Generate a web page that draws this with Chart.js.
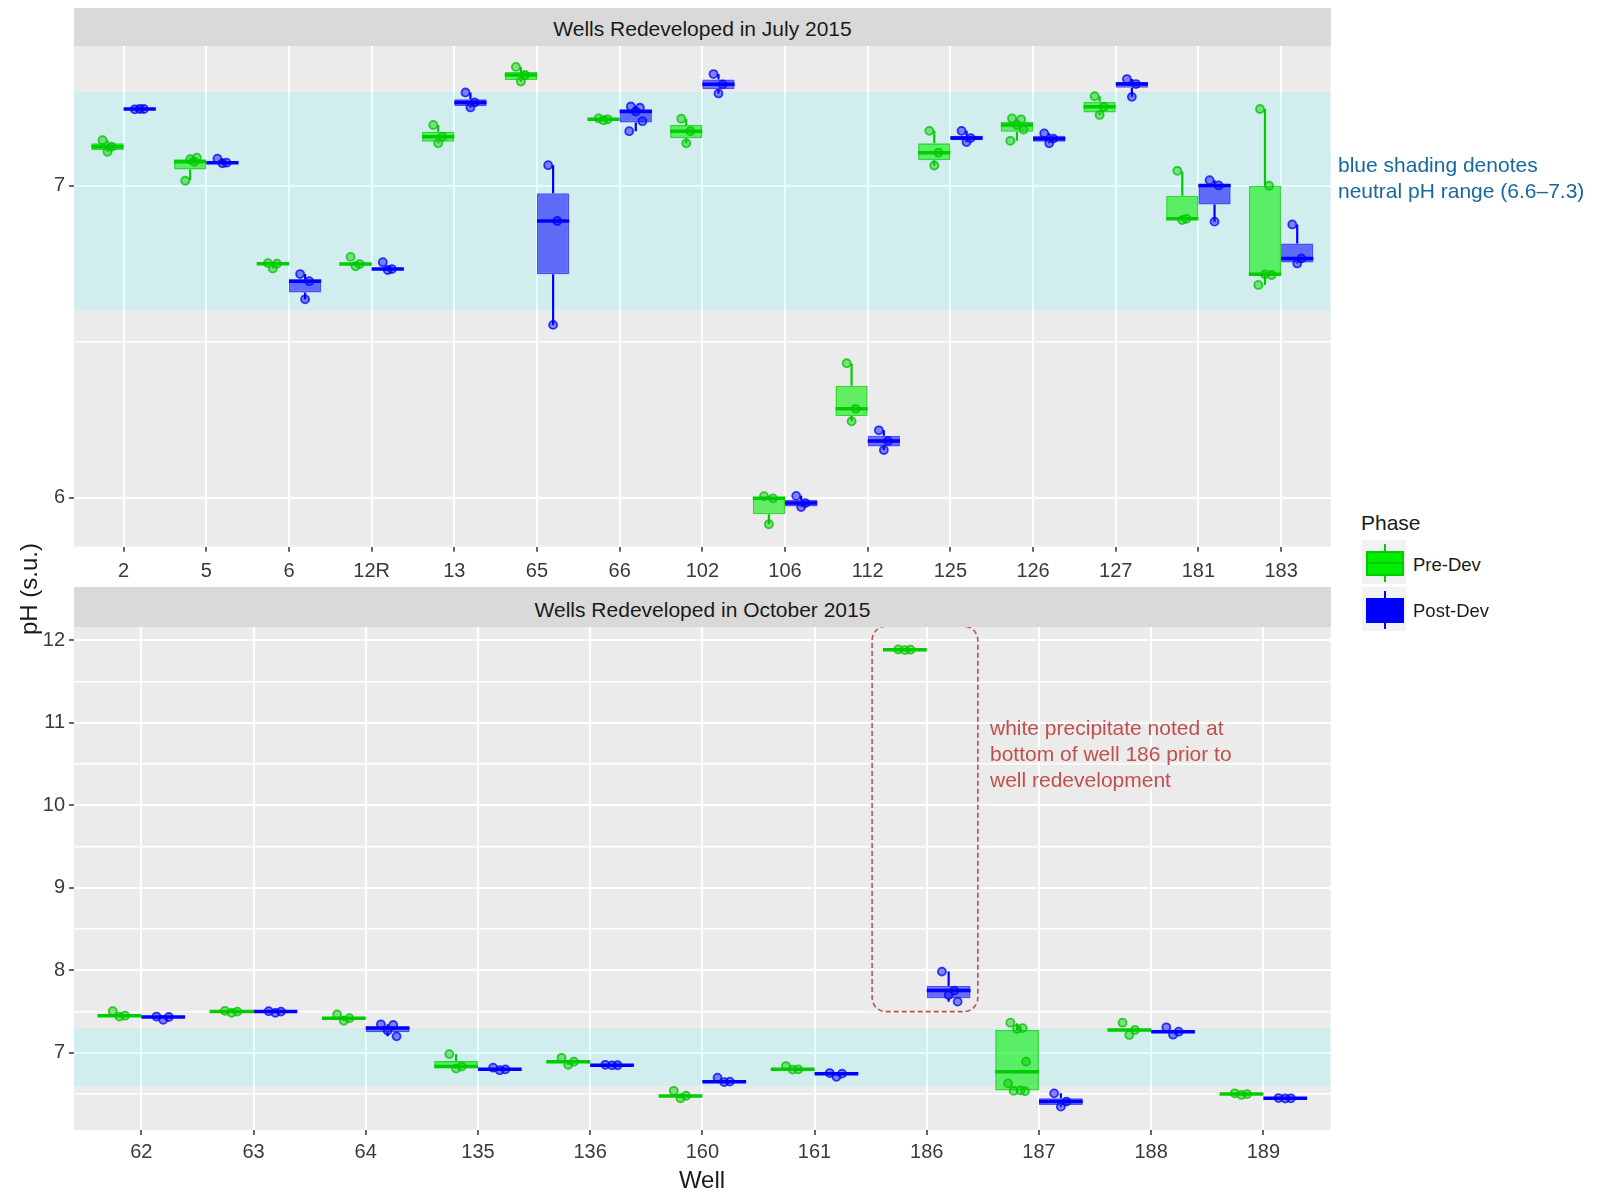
<!DOCTYPE html>
<html>
<head>
<meta charset="utf-8">
<script src="https://cdn.jsdelivr.net/npm/chart.js@4.4.1/dist/chart.umd.min.js"></script>
<style>
  body { margin: 0; background: #fff; font-family: "Liberation Sans", Arial, sans-serif; }
  #wrap { position: relative; width: 1606px; height: 1194px; overflow: hidden; }
  canvas { position: absolute; left: 0; }
  .strip { position: absolute; left: 74px; width: 1257px; background: #d9d9d9; color: #1a1a1a;
           font-size: 21px; text-align: center; }
  .note { position: absolute; font-size: 21px; line-height: 26px; white-space: nowrap; }
  .key { position: absolute; left: 1362px; width: 44px; height: 44px; background: #f2f2f2; }
  .key .wh { position: absolute; left: 22px; top: 4px; width: 2px; height: 38px; }
  .key .bx { position: absolute; left: 4px; top: 11px; width: 34px; height: 21px; border: 2px solid; }
  .key .md { position: absolute; left: 4px; top: 22px; width: 38px; height: 2px; }
  .lab { position: absolute; left: 1413px; font-size: 18.5px; color: #1a1a1a; line-height: 22px; }
</style>
</head>
<body>
<div id="wrap">
  <canvas id="julyChart" width="1340" height="587" style="top:0"></canvas>
  <canvas id="octChart" width="1340" height="607" style="top:587px"></canvas>

  <div class="strip" style="top:8px;height:38px;line-height:42px">Wells Redeveloped in July 2015</div>
  <div class="strip" style="top:587px;height:40px;line-height:46px">Wells Redeveloped in October 2015</div>

  <div class="note" style="left:-27px;top:576px;width:112px;text-align:center;font-size:24px;color:#1a1a1a;transform:rotate(-90deg)">pH (s.u.)</div>
  <div class="note" style="left:652px;top:1167px;width:100px;text-align:center;font-size:24px;color:#1a1a1a">Well</div>

  <div class="note" style="left:1338px;top:152px;color:#17699b">blue shading denotes<br>neutral pH range (6.6–7.3)</div>
  <div class="note" style="left:990px;top:715px;line-height:25.8px;color:#c0504d">white precipitate noted at<br>bottom of well 186 prior to<br>well redevelopment</div>

  <div class="note" style="left:1361px;top:510px;color:#1a1a1a">Phase</div>
  <div class="key" style="top:540px">
    <div class="wh" style="background:#00cd00"></div>
    <div class="bx" style="background:#00ee00;border-color:#00cd00"></div>
    <div class="md" style="background:#00cd00"></div>
  </div>
  <div class="lab" style="top:554px">Pre-Dev</div>
  <div class="key" style="top:587px">
    <div class="wh" style="background:#0000ff"></div>
    <div class="bx" style="background:#0000ff;border-color:#0000ff"></div>
    <div class="md" style="background:#0000ff"></div>
  </div>
  <div class="lab" style="top:600px">Post-Dev</div>
</div>

<script>
// 7月再開発の井戸
const julyWells = ['2', '5', '6', '12R', '13', '65', '66', '102', '106', '112', '125', '126', '127', '181', '183'];
// 箱ひげ: [min, q1, median, q3, max]
const julyPreBox = [
    [7.109, 7.115, 7.125, 7.136, 7.146],
    [7.018, 7.052, 7.077, 7.085, 7.090],
    [6.735, 6.748, 6.750, 6.752, 6.752],
    [6.745, 6.746, 6.749, 6.752, 6.752],
    [7.136, 7.141, 7.157, 7.173, 7.195],
    [7.334, 7.339, 7.355, 7.365, 7.381],
    [7.210, 7.211, 7.213, 7.215, 7.216],
    [7.136, 7.152, 7.175, 7.195, 7.214],
    [5.915, 5.947, 5.998, 6.002, 6.006],
    [6.245, 6.262, 6.285, 6.359, 6.430],
    [7.065, 7.082, 7.106, 7.136, 7.176],
    [7.144, 7.173, 7.195, 7.205, 7.215],
    [7.227, 7.235, 7.253, 7.269, 7.287],
    [6.890, 6.892, 6.894, 6.968, 7.046],
    [6.682, 6.714, 6.716, 7.000, 7.246]
];
const julyPostBox = [
    [7.244, 7.245, 7.246, 7.247, 7.248],
    [7.072, 7.073, 7.074, 7.076, 7.087],
    [6.636, 6.658, 6.694, 6.700, 6.717],
    [6.731, 6.732, 6.733, 6.735, 6.735],
    [7.251, 7.256, 7.267, 7.277, 7.299],
    [6.554, 6.716, 6.887, 6.976, 7.066],
    [7.175, 7.203, 7.238, 7.245, 7.254],
    [7.296, 7.309, 7.325, 7.341, 7.358],
    [5.970, 5.972, 5.983, 5.993, 6.006],
    [6.153, 6.164, 6.182, 6.199, 6.216],
    [7.140, 7.146, 7.153, 7.160, 7.176],
    [7.136, 7.141, 7.151, 7.160, 7.168],
    [7.285, 7.314, 7.326, 7.333, 7.342],
    [6.885, 6.940, 7.001, 7.005, 7.018],
    [6.751, 6.754, 6.767, 6.815, 6.876]
];
// 測定値
const julyPrePoints = [
    [7.146, 7.125, 7.109], [7.016, 7.077, 7.085, 7.090], [6.752, 6.750, 6.735],
    [6.772, 6.749, 6.742], [7.195, 7.157, 7.136], [7.381, 7.355, 7.334],
    [7.216, 7.213, 7.210], [7.215, 7.175, 7.136], [6.005, 5.998, 5.915],
    [6.431, 6.285, 6.245], [7.176, 7.106, 7.065], [7.216, 7.213, 7.195, 7.180, 7.144],
    [7.287, 7.253, 7.227], [7.048, 6.894, 6.890], [7.246, 7.000, 6.716, 6.714, 6.682]
];
const julyPostPoints = [
    [7.245, 7.246, 7.246], [7.087, 7.074, 7.072], [6.717, 6.694, 6.636],
    [6.755, 6.733, 6.730], [7.299, 7.267, 7.251], [7.066, 6.887, 6.554],
    [7.254, 7.250, 7.238, 7.207, 7.175], [7.358, 7.325, 7.296], [6.006, 5.983, 5.970],
    [6.216, 6.182, 6.153], [7.176, 7.153, 7.140], [7.168, 7.151, 7.136],
    [7.342, 7.326, 7.285], [7.018, 7.001, 6.885], [6.876, 6.767, 6.751]
];

// 10月再開発の井戸
const octWells = ['62', '63', '64', '135', '136', '160', '161', '186', '187', '188', '189'];
const octPreBox = [
    [7.440, 7.447, 7.451, 7.455, 7.455],
    [7.490, 7.497, 7.500, 7.503, 7.510],
    [7.390, 7.415, 7.420, 7.425, 7.450],
    [6.810, 6.815, 6.835, 6.900, 6.985],
    [6.855, 6.875, 6.893, 6.900, 6.900],
    [6.450, 6.470, 6.477, 6.487, 6.487],
    [6.797, 6.798, 6.800, 6.808, 6.808],
    [11.880, 11.883, 11.887, 11.890, 11.890],
    [6.535, 6.545, 6.772, 7.278, 7.360],
    [7.270, 7.272, 7.278, 7.285, 7.285],
    [6.490, 6.496, 6.501, 6.505, 6.505]
];
const octPostBox = [
    [7.430, 7.431, 7.435, 7.440, 7.440],
    [7.490, 7.495, 7.500, 7.502, 7.505],
    [7.200, 7.250, 7.300, 7.318, 7.346],
    [6.795, 6.797, 6.800, 6.803, 6.803],
    [6.845, 6.848, 6.850, 6.852, 6.855],
    [6.645, 6.648, 6.651, 6.655, 6.655],
    [6.745, 6.746, 6.748, 6.752, 6.752],
    [7.621, 7.662, 7.755, 7.811, 7.985],
    [6.348, 6.368, 6.409, 6.449, 6.509],
    [7.250, 7.252, 7.257, 7.262, 7.262],
    [6.445, 6.447, 6.449, 6.452, 6.452]
];
const octPrePoints = [
    [7.505, 7.451, 7.440], [7.510, 7.500, 7.485], [7.465, 7.420, 7.390],
    [6.985, 6.835, 6.810], [6.940, 6.893, 6.855], [6.540, 6.480, 6.450],
    [6.840, 6.800, 6.797], [11.890, 11.887, 11.883],
    [7.366, 7.300, 7.290, 6.894, 6.630, 6.545, 6.540, 6.535],
    [7.366, 7.278, 7.217], [6.510, 6.500, 6.490]
];
const octPostPoints = [
    [7.440, 7.435, 7.400], [7.505, 7.500, 7.485], [7.346, 7.338, 7.270, 7.200],
    [6.820, 6.800, 6.790], [6.855, 6.850, 6.848], [6.700, 6.651, 6.645],
    [6.755, 6.748, 6.710], [7.985, 7.755, 7.702, 7.621],
    [6.509, 6.409, 6.348], [7.310, 7.257, 7.220], [6.452, 6.449, 6.447]
];

// 目盛り
const julyYTicks = [6, 6.5, 7];
const octYTicks = [6.5, 7, 7.5, 8, 8.5, 9, 9.5, 10, 10.5, 11, 11.5, 12];
const neutralRange = [6.6, 7.3];

// 点のばらつき（固定パターン）
const jitter = [-0.06, 0.05, 0.0, 0.08, -0.08, 0.03, -0.03, 0.07, -0.05];
const dodge = 0.195;

const GREEN = '#00cd00';
const BLUE = '#0000ff';

// パネル背景と中性域のシェーディング
const panelPlugin = {
    id: 'panel',
    beforeDraw(chart) {
        const a = chart.chartArea, ctx = chart.ctx;
        ctx.save();
        ctx.fillStyle = '#ebebeb';
        ctx.fillRect(a.left, a.top, a.right - a.left, a.bottom - a.top);
        ctx.restore();
    },
    beforeDatasetsDraw(chart) {
        const a = chart.chartArea, ctx = chart.ctx, y = chart.scales.y;
        const top = y.getPixelForValue(neutralRange[1]);
        const bottom = y.getPixelForValue(neutralRange[0]);
        ctx.save();
        ctx.fillStyle = 'rgba(0, 255, 255, 0.11)';
        ctx.fillRect(a.left, top, a.right - a.left, bottom - top);
        ctx.restore();
    }
};

// ひげと中央値の線
const whiskerPlugin = {
    id: 'whiskers',
    afterDatasetDraw(chart, args) {
        const ds = chart.data.datasets[args.index];
        if (!ds.stats) return;
        const y = chart.scales.y, ctx = chart.ctx;
        ctx.save();
        ctx.strokeStyle = ds.lineColor;
        args.meta.data.forEach((bar, i) => {
            const [lo, q1, med, q3, hi] = ds.stats[i];
            const half = bar.width / 2;
            ctx.lineWidth = 2.2;
            ctx.beginPath();
            ctx.moveTo(bar.x, y.getPixelForValue(q3));
            ctx.lineTo(bar.x, y.getPixelForValue(hi));
            ctx.moveTo(bar.x, y.getPixelForValue(q1));
            ctx.lineTo(bar.x, y.getPixelForValue(lo));
            ctx.stroke();
            ctx.lineWidth = 3.5;
            ctx.beginPath();
            ctx.moveTo(bar.x - half, y.getPixelForValue(med));
            ctx.lineTo(bar.x + half, y.getPixelForValue(med));
            ctx.stroke();
        });
        ctx.restore();
    }
};

// 井戸186の注記枠
const calloutPlugin = {
    id: 'callout',
    afterDraw(chart) {
        const x = chart.scales.x, y = chart.scales.y, ctx = chart.ctx;
        const idx = octWells.indexOf('186');
        const l = x.getPixelForValue(idx - 0.487), r = x.getPixelForValue(idx + 0.455);
        const t = chart.chartArea.top - 0.5, b = y.getPixelForValue(7.5);
        ctx.save();
        ctx.strokeStyle = '#c0504d';
        ctx.lineWidth = 1.6;
        ctx.setLineDash([5, 3]);
        ctx.beginPath();
        ctx.roundRect(l, t, r - l, b - t, 14);
        ctx.stroke();
        ctx.restore();
    }
};

function boxData(stats) {
    return stats.map((s, i) => ({ x: i, y: [s[1], s[3]] }));
}

function pointData(points, side) {
    const out = [];
    points.forEach((vals, i) => {
        vals.forEach((v, k) => out.push({ x: i + side * dodge + jitter[k % jitter.length], y: v }));
    });
    return out;
}

function makePanel(id, wells, preBox, postBox, prePts, postPts, yMin, yMax, yTicks, bottomH, xPad, extra) {
    const tickFont = { family: '"Liberation Sans", Arial, sans-serif', size: 20 };
    return new Chart(document.getElementById(id), {
        type: 'bar',
        data: {
            datasets: [
                {
                    type: 'bar', label: 'Pre-Dev', data: boxData(preBox), stats: preBox, lineColor: GREEN,
                    backgroundColor: 'rgba(0, 238, 0, 0.57)', borderColor: 'rgba(0, 215, 0, 0.8)',
                    borderWidth: 1.6, borderSkipped: false, categoryPercentage: 0.78, barPercentage: 1, order: 1
                },
                {
                    type: 'bar', label: 'Post-Dev', data: boxData(postBox), stats: postBox, lineColor: BLUE,
                    backgroundColor: 'rgba(0, 0, 255, 0.55)', borderColor: 'rgba(40, 40, 255, 0.8)',
                    borderWidth: 1.6, borderSkipped: false, categoryPercentage: 0.78, barPercentage: 1, order: 1
                },
                {
                    type: 'scatter', label: 'Pre-Dev points', data: pointData(prePts, -1), order: 0,
                    pointRadius: 4, pointBorderWidth: 1.8,
                    pointBackgroundColor: 'rgba(0, 205, 0, 0.45)', pointBorderColor: 'rgba(0, 200, 0, 0.8)'
                },
                {
                    type: 'scatter', label: 'Post-Dev points', data: pointData(postPts, 1), order: 0,
                    pointRadius: 4, pointBorderWidth: 1.8,
                    pointBackgroundColor: 'rgba(0, 0, 255, 0.45)', pointBorderColor: 'rgba(0, 0, 255, 0.75)'
                }
            ]
        },
        options: {
            responsive: false,
            animation: false,
            devicePixelRatio: 1,
            layout: { padding: { top: id === 'julyChart' ? 46 : 39.7, left: 0, right: 9.3, bottom: 0 } },
            plugins: { legend: { display: false }, tooltip: { enabled: false } },
            scales: {
                x: {
                    type: 'linear', offset: false, min: -0.6, max: wells.length - 0.4,
                    afterBuildTicks: scale => { scale.ticks = wells.map((_, i) => ({ value: i })); },
                    afterFit: scale => { scale.height = bottomH; },
                    ticks: {
                        callback: v => wells[v], autoSkip: false, maxRotation: 0,
                        color: '#3a3a3a', font: tickFont, padding: xPad
                    },
                    grid: { offset: false, color: '#ffffff', lineWidth: 2, tickLength: 5, tickColor: '#333', tickWidth: 1.5 },
                    border: { display: false }
                },
                y: {
                    type: 'linear', min: yMin, max: yMax, beginAtZero: false,
                    afterBuildTicks: scale => { scale.ticks = yTicks.map(v => ({ value: v })); },
                    afterFit: scale => { scale.width = 74; },
                    ticks: {
                        callback: v => Number.isInteger(v) ? v : '',
                        color: '#3a3a3a', font: tickFont, padding: 4
                    },
                    grid: {
                        color: '#ffffff',
                        lineWidth: c => Number.isInteger(c.tick.value) ? 2 : 1.5,
                        tickLength: 5,
                        tickColor: c => Number.isInteger(c.tick.value) ? '#333' : 'rgba(0,0,0,0)',
                        tickWidth: 1.5
                    },
                    border: { display: false }
                }
            }
        },
        plugins: [panelPlugin, whiskerPlugin].concat(extra)
    });
}

document.addEventListener('DOMContentLoaded', function() {
    makePanel('julyChart', julyWells, julyPreBox, julyPostBox, julyPrePoints, julyPostPoints,
        5.843, 7.448, julyYTicks, 587 - 546.7, 8, []);
    makePanel('octChart', octWells, octPreBox, octPostBox, octPrePoints, octPostPoints,
        6.065, 12.166, octYTicks, 607 - 543, 5, [calloutPlugin]);
});
</script>
</body>
</html>
